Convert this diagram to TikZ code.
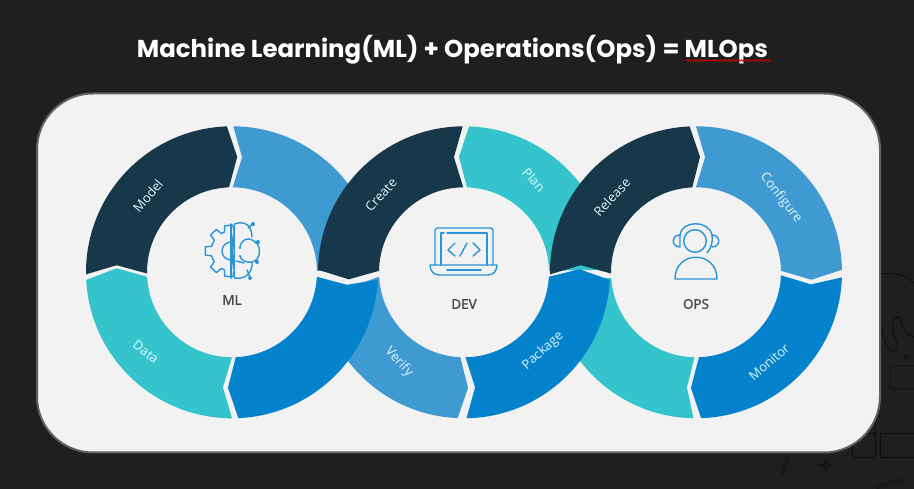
\documentclass[tikz,border=0pt]{standalone}
\usepackage{xcolor}
\usepackage{fontspec}
\setmainfont{Open Sans}
\newfontfamily\titlefont{Poppins}
\newfontfamily\hubfont[FakeBold=1.5]{Open Sans}
\usetikzlibrary{arrows.meta,calc,decorations.pathmorphing}
\definecolor{slide}{HTML}{1F1F1F}
\definecolor{doodle}{HTML}{0E0E0E}
\definecolor{panel}{HTML}{F2F2F2}
\definecolor{navy}{HTML}{17384A}
\definecolor{skyblue}{HTML}{409AD2}
\definecolor{aqua}{HTML}{35C4CC}
\definecolor{ocean}{HTML}{0482CC}
\definecolor{iconblue}{HTML}{2A94D6}
% ring part: colour, centre x, first angle, its point, last angle, its point
\newcommand{\ringpart}[6]{
\fill[#1]([shift={(#2,216.7)}]#3:146)arc[start angle=#3,end angle=#5,radius=146pt]
--([shift={(#2,216.7)}]#6:115.5)--([shift={(#2,216.7)}]#5:85)
arc[start angle=#5,end angle=#3,radius=85pt]
--([shift={(#2,216.7)}]#4:115.5)--cycle;
}
\tikzset{
ringlabel/.style={text=white!88!cyan,font=\fontsize{13}{13}\selectfont,inner sep=0pt},
hublabel/.style={text=black!72,font=\hubfont\fontsize{13.5}{14}\selectfont,inner sep=0pt},
icon/.style={draw=iconblue,line width=1.4pt,line cap=round,line join=round},
px/.style={shift={(0,489)},yscale=-1},
sketch/.style={draw=doodle,line width=0.8pt}
}
\begin{document}
\begin{tikzpicture}[x=1pt,y=1pt]
\useasboundingbox(0,0)rectangle(914,489);
\fill[slide](0,0)rectangle(914,489);
% background sketches
\begin{scope}[px]
\draw[sketch](881,274)..controls(890,272)and(905,274)..(914,283);
\draw[sketch](882,327)..controls(883,340)and(888,351)..(893,351)
..controls(899,351)and(898,343)..(895,338)..controls(890,330)and(892,317)..(898,317)
..controls(903,317)and(899,333)..(914,337);
\draw[sketch](906,357)circle[radius=2];
\draw[sketch](914,366)--(892,366)--(890,368)--(890,387)--(892,389)--(914,389);
\draw[sketch](852,433)rectangle(875,457);
\draw[sketch](875,420)--(875,433);
\draw[sketch](914,433)--(880,433)--(880,457)--(914,457);
\draw[sketch](826,458)..controls(826,463)and(828,465)..(833,465)
..controls(828,465)and(826,467)..(826,472)..controls(826,467)and(824,465)..(819,465)
..controls(824,465)and(826,463)..(826,458);
\node[text=doodle,rotate=68,font=\fontsize{7}{7}\selectfont,inner sep=0pt](with)at(785,467){WITH};
\node[text=doodle,rotate=195,font=\fontsize{7}{7}\selectfont,inner sep=0pt](techno)at(889,484){TECHNO};
\end{scope}
\draw[panel,fill=panel,draw=black!62,line width=2pt,rounded corners=56pt](37,36.5)rectangle(880,395.5);
% title
\node[text=white,inner sep=0pt,font=\titlefont\fontsize{24.4}{25}\selectfont\bfseries](title)at(452.5,439){Machine Learning(ML) + Operations(Ops) = MLOps};
\coordinate(wavya)at(686,428.5);
\coordinate(wavyb)at(771,428.5);
\draw[red!80!black,line width=0.7pt,decorate,decoration={snake,amplitude=0.9pt,segment length=2.6pt}](wavya)--(wavyb);
% rings, lower parts first where they cross
\ringpart{skyblue}{232}{89.5}{85}{1}{1}
\ringpart{navy}{232}{180.8}{176.5}{92}{87.4}
\ringpart{aqua}{232}{183}{178}{270}{265.5}
\ringpart{skyblue}{464}{183}{187.5}{267.5}{272}
\ringpart{ocean}{232}{272.5}{268}{357}{353.8}
\ringpart{navy}{464}{179}{183.5}{90.5}{95}
\ringpart{aqua}{464}{88}{92.5}{1}{1}
\ringpart{aqua}{696}{184}{182}{269}{265.5}
\ringpart{ocean}{464}{271}{275.5}{357}{361.5}
\ringpart{navy}{696}{180.8}{176.5}{92.5}{88}
\ringpart{skyblue}{696}{90}{85.5}{1}{-3.7}
\ringpart{ocean}{696}{358}{354}{272}{267.5}
\begin{scope}[px]
\node[ringlabel,rotate=50](model)at(148,196){Model};
\node[ringlabel,rotate=-38](data)at(146,352){Data};
\node[ringlabel,rotate=48](create)at(381,195){Create};
\node[ringlabel,rotate=-47](plan)at(534,180){Plan};
\node[ringlabel,rotate=-47](verify)at(399,362){Verify};
\node[ringlabel,rotate=42](package)at(543,351){Package};
\node[ringlabel,rotate=47](release)at(612,197){Release};
\node[ringlabel,rotate=-52](configure)at(781,198){Configure};
\node[ringlabel,rotate=41](monitor)at(769,362){Monitor};
\node[hublabel](ml)at(232,300){ML};
\node[hublabel](dev)at(464,304){DEV};
\node[hublabel](ops)at(696,304){OPS};
% gear and brain
\draw[icon](231,225)\foreach \a in {95,133,180,227,265}{
--($(231,251)+(\a-14:20)$)--($(231,251)+(\a-9:26)$)--($(231,251)+(\a+9:26)$)--($(231,251)+(\a+14:20)$)
}--(231,277);
\draw[icon](231,224)--(231,278)(234.5,224)--(234.5,278);
\draw[icon](231,242)arc[start angle=-90,end angle=-270,radius=9pt];
\draw[icon](234.5,224)..controls(245,220)and(252,226)..(252,237)
(240,248)..controls(240,240)and(248,237)..(252,240)
..controls(262,243)and(262,260)..(252,262)..controls(247,263)and(241,261)..(240,256)
(252,262)..controls(253,271)and(247,280)..(234.5,278)
(248,228)--(253,224)(255,243)--(258,242)(256,260)--(257,262)(247,270)--(250,277)
(236,261)--(244,263);
\fill[iconblue](253,224)circle[radius=2](258,242)circle[radius=2](257,262)circle[radius=2](250,278)circle[radius=2]
(240,248)circle[radius=1.1](240,256)circle[radius=1.1];
% laptop
\draw[icon](435,265)--(435,230)--(437,228)--(491,228)--(493,230)--(493,265);
\draw[icon](441,265)--(441,233)--(444,233)(447,233)--(487,233)--(487,265);
\draw[icon](430,265)--(497,265)..controls(497,271)and(493,275)..(488,275)--(439,275)..controls(434,275)and(430,271)..(430,265);
\draw[icon](447,270)--(481,270);
\draw[icon](455,243)--(448,250)--(455,256)(460,256)--(467,243)(473,243)--(480,250)--(473,256);
% headset
\draw[icon](695,241)circle[radius=11.3];
\draw[icon](680,235)..controls(682,220)and(709,220)..(712,235)..controls(713,243)and(711,248)..(707,253);
\draw[icon](680,235)..controls(671,235)and(671,247)..(680,247)--cycle;
\draw[icon](712,235)..controls(721,235)and(721,247)..(712,247);
\draw[icon](675,279)..controls(675,250)and(717,250)..(717,279)--cycle;
\end{scope}
\end{tikzpicture}
\end{document}
